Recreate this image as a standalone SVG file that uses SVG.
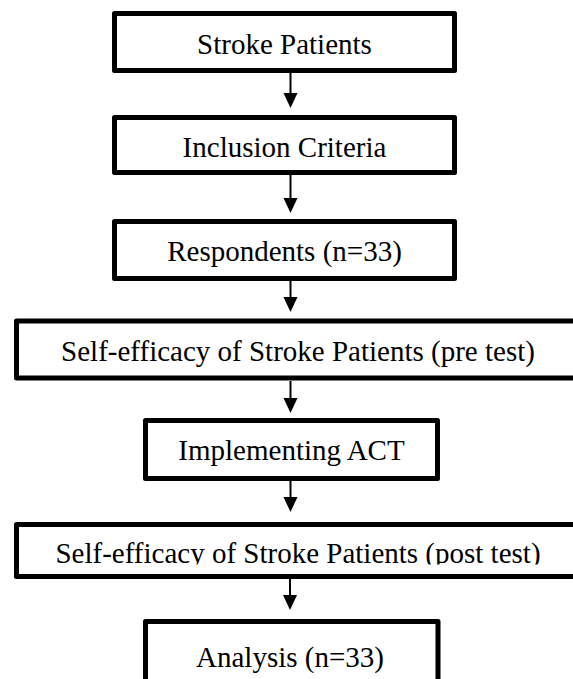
<svg xmlns="http://www.w3.org/2000/svg" width="573" height="679" viewBox="0 0 573 679">
<style>
.box{fill:#fff;stroke:#000;stroke-width:5;stroke-linejoin:round}
.t{font-family:"Liberation Serif","Times New Roman",serif;font-size:29px;fill:#000;text-anchor:middle}
.ln{stroke:#000;stroke-width:2;fill:none}
.hd{fill:#000}
</style>
<defs>
<clipPath id="clip6"><rect x="0" y="520" width="573" height="44.5"/></clipPath>
</defs>
<rect width="573" height="679" fill="#fff"/>
<g id="connectors">
<line class="ln" x1="290.5" y1="73" x2="290.5" y2="95"/><polygon class="hd" points="283.5,93 297.5,93 290.5,108"/>
<line class="ln" x1="290.5" y1="175" x2="290.5" y2="200"/><polygon class="hd" points="283.5,198 297.5,198 290.5,213"/>
<line class="ln" x1="290.5" y1="281" x2="290.5" y2="299"/><polygon class="hd" points="283.5,297 297.5,297 290.5,312"/>
<line class="ln" x1="290.5" y1="381" x2="290.5" y2="400"/><polygon class="hd" points="283.5,398 297.5,398 290.5,413"/>
<line class="ln" x1="290.5" y1="481" x2="290.5" y2="499"/><polygon class="hd" points="283.5,497 297.5,497 290.5,512"/>
<line class="ln" x1="290" y1="579" x2="290" y2="597"/><polygon class="hd" points="283,595 297,595 290,610"/>
</g>
<g id="n1"><rect class="box" x="114.5" y="13.5" width="340" height="57"/><text class="t" x="284.5" y="53.5">Stroke Patients</text></g>
<g id="n2"><rect class="box" x="114.5" y="117.5" width="340" height="55"/><text class="t" x="284.5" y="157">Inclusion Criteria</text></g>
<g id="n3"><rect class="box" x="114.5" y="221.5" width="340" height="57"/><text class="t" x="284.5" y="261">Respondents (n=33)</text></g>
<g id="n4"><rect class="box" x="16.5" y="321" width="565" height="57"/><text class="t" x="298" y="361">Self-efficacy of Stroke Patients (pre test)</text></g>
<g id="n5"><rect class="box" x="145.5" y="420.5" width="292" height="58"/><text class="t" x="291.5" y="460">Implementing ACT</text></g>
<g id="n6"><rect class="box" x="16.5" y="524.5" width="565" height="52"/><text class="t" x="298" y="563" clip-path="url(#clip6)">Self-efficacy of Stroke Patients (post test)</text></g>
<g id="n7"><rect class="box" x="145.5" y="621.5" width="292.5" height="62"/><text class="t" x="290" y="667">Analysis (n=33)</text></g>
</svg>
